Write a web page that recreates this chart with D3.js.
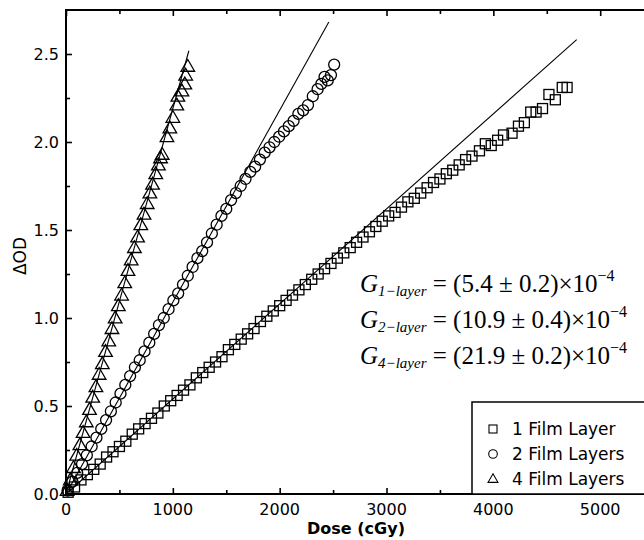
<!DOCTYPE html>
<html>
<head>
<meta charset="utf-8">
<script src="https://cdn.jsdelivr.net/npm/d3@7"></script>
<style>
  html, body { margin: 0; padding: 0; background: #fff; }
  svg { display: block; }
</style>
</head>
<body>
<svg id="chart" width="644" height="540"></svg>
<script>
// Film response: net optical density change vs. dose for stacked film layers.

// 1 film layer (squares): dose in cGy
const dose1 = [20, 80, 140, 200, 260, 320, 380, 440, 500, 560, 620, 680, 740, 800, 860, 920, 980, 1040, 1100, 1160,
  1220, 1280, 1340, 1400, 1460, 1520, 1580, 1640, 1700, 1760, 1820, 1880, 1940, 2000, 2060, 2120, 2180, 2240, 2300, 2360,
  2420, 2480, 2540, 2600, 2660, 2720, 2780, 2840, 2900, 2960, 3020, 3080, 3140, 3200, 3260, 3320, 3380, 3440, 3500, 3560,
  3620, 3680, 3740, 3800, 3870, 3925, 3980, 4040, 4095, 4175, 4235, 4290, 4350, 4400, 4460, 4520, 4580, 4645, 4690];
const od1 = [0.01, 0.04, 0.08, 0.11, 0.14, 0.17, 0.21, 0.24, 0.27, 0.30, 0.34, 0.37, 0.40, 0.43, 0.46, 0.50, 0.53, 0.56, 0.59, 0.62,
  0.66, 0.69, 0.72, 0.75, 0.78, 0.82, 0.85, 0.88, 0.91, 0.94, 0.98, 1.01, 1.04, 1.07, 1.10, 1.13, 1.16, 1.19, 1.22, 1.25,
  1.28, 1.31, 1.34, 1.37, 1.40, 1.43, 1.46, 1.49, 1.52, 1.55, 1.58, 1.60, 1.63, 1.66, 1.68, 1.71, 1.74, 1.77, 1.79, 1.82,
  1.84, 1.87, 1.90, 1.92, 1.95, 1.99, 1.98, 2.01, 2.04, 2.05, 2.09, 2.11, 2.17, 2.17, 2.19, 2.27, 2.24, 2.31, 2.31];

// 2 film layers (circles)
const dose2 = [15, 60, 105, 150, 195, 240, 285, 330, 375, 420, 465, 510, 555, 600, 645, 690, 735, 780, 825, 870,
  915, 960, 1005, 1050, 1095, 1140, 1185, 1230, 1275, 1320, 1365, 1410, 1455, 1500, 1545, 1590, 1635, 1680, 1725, 1770,
  1815, 1860, 1905, 1950, 1995, 2040, 2085, 2130, 2175, 2220, 2265, 2310, 2355, 2390, 2420, 2450, 2480, 2510];
const od2 = [0.02, 0.07, 0.12, 0.17, 0.22, 0.27, 0.32, 0.37, 0.42, 0.47, 0.52, 0.57, 0.62, 0.67, 0.72, 0.76, 0.81, 0.86, 0.91, 0.96,
  1.00, 1.05, 1.10, 1.14, 1.19, 1.24, 1.29, 1.34, 1.38, 1.43, 1.48, 1.53, 1.58, 1.62, 1.67, 1.71, 1.75, 1.79, 1.83, 1.86,
  1.90, 1.94, 1.97, 2.00, 2.03, 2.06, 2.09, 2.12, 2.16, 2.18, 2.21, 2.26, 2.30, 2.33, 2.37, 2.35, 2.38, 2.44];

// 4 film layers (triangles)
const dose4 = [10, 40, 70, 100, 130, 160, 190, 220, 250, 280, 310, 340, 370, 400, 430, 460, 490, 520, 550, 580,
  610, 640, 670, 700, 730, 760, 785, 810, 840, 865, 885, 900, 945, 972, 1000, 1037, 1047, 1085, 1112, 1120, 1140];
const od4 = [0.02, 0.08, 0.15, 0.22, 0.28, 0.35, 0.41, 0.48, 0.55, 0.61, 0.68, 0.74, 0.81, 0.87, 0.94, 1.00, 1.07, 1.13, 1.20, 1.27,
  1.33, 1.40, 1.46, 1.53, 1.59, 1.65, 1.71, 1.76, 1.82, 1.87, 1.91, 1.93, 2.03, 2.08, 2.14, 2.21, 2.26, 2.29, 2.33, 2.38, 2.43];

// Sensitivity (slope) of each linear fit, in 1/cGy, as printed: mantissa and exponent
const gainMantissa = [5.4, 10.9, 21.9];
const gainErr = [0.2, 0.4, 0.2];
const gainExp = -4;
// Dose range over which each fit line is drawn
const fitDoseMax = [4780, 2460, 1150];

const seriesNames = ["1 Film Layer", "2 Film Layers", "4 Film Layers"];
const eqLabels = ["1\u2212layer", "2\u2212layer", "4\u2212layer"];

const xTicks = [0, 1000, 2000, 3000, 4000, 5000];
const yTicks = [0.0, 0.5, 1.0, 1.5, 2.0, 2.5];

const svg = d3.select("#chart");
const W = 644, H = 540;
const margin = { left: 66, top: 10, bottom: 494 };

const x = d3.scaleLinear().domain([0, 5410]).range([margin.left, W]);
const y = d3.scaleLinear().domain([0, 2.75]).range([margin.bottom, margin.top]);

const sans = "DejaVu Sans, Verdana, sans-serif";
const serif = "Liberation Serif, Times New Roman, Times, serif";

// Fit lines (drawn beneath markers)
const lineG = svg.append("g");
gainMantissa.forEach((m, i) => {
  const g = m * Math.pow(10, gainExp);
  lineG.append("line")
    .attr("x1", x(0)).attr("y1", y(0))
    .attr("x2", x(fitDoseMax[i])).attr("y2", y(g * fitDoseMax[i]))
    .attr("stroke", "#000").attr("stroke-width", 1.1);
});

// Markers
const mk = svg.append("g").attr("fill", "none").attr("stroke", "#000").attr("stroke-width", 1.3);
const pts = (ds, os) => ds.map((d, i) => [d, os[i]]);

mk.selectAll("rect.s1").data(pts(dose1, od1)).join("rect")
  .attr("x", d => x(d[0]) - 5).attr("y", d => y(d[1]) - 5)
  .attr("width", 10).attr("height", 10);

mk.selectAll("circle.s2").data(pts(dose2, od2)).join("circle")
  .attr("cx", d => x(d[0])).attr("cy", d => y(d[1])).attr("r", 5.5);

const tri = d3.symbol().type(d3.symbolTriangle).size(80);
mk.selectAll("path.s4").data(pts(dose4, od4)).join("path")
  .attr("transform", d => `translate(${x(d[0])},${y(d[1]) + 1})`)
  .attr("d", tri);

// Frame: left, bottom and top lines (right edge runs past the page)
const frame = svg.append("g").attr("stroke", "#000").attr("stroke-width", 2);
frame.append("line").attr("x1", margin.left).attr("x2", margin.left).attr("y1", margin.top - 1).attr("y2", margin.bottom + 1);
frame.append("line").attr("x1", margin.left - 1).attr("x2", W).attr("y1", margin.bottom).attr("y2", margin.bottom);
frame.append("line").attr("x1", margin.left - 1).attr("x2", W).attr("y1", margin.top).attr("y2", margin.top);

// Axes with inward ticks
const xMinor = d3.range(500, 5500, 1000);
const yMinor = d3.range(0.25, 2.75, 0.5);

const xAxis = svg.append("g").attr("transform", `translate(0,${margin.bottom})`)
  .call(d3.axisTop(x).tickValues(xTicks).tickSize(6).tickFormat(""));
const xAxisMinor = svg.append("g").attr("transform", `translate(0,${margin.bottom})`)
  .call(d3.axisTop(x).tickValues(xMinor).tickSize(4).tickFormat(""));
const xTop = svg.append("g").attr("transform", `translate(0,${margin.top})`)
  .call(d3.axisBottom(x).tickValues(xTicks).tickSize(6).tickFormat(""));
const xTopMinor = svg.append("g").attr("transform", `translate(0,${margin.top})`)
  .call(d3.axisBottom(x).tickValues(xMinor).tickSize(4).tickFormat(""));
const yAxis = svg.append("g").attr("transform", `translate(${margin.left},0)`)
  .call(d3.axisRight(y).tickValues(yTicks).tickSize(6).tickFormat(""));
const yAxisMinor = svg.append("g").attr("transform", `translate(${margin.left},0)`)
  .call(d3.axisRight(y).tickValues(yMinor).tickSize(4).tickFormat(""));
[xAxis, xAxisMinor, xTop, xTopMinor, yAxis, yAxisMinor].forEach(a => {
  a.select(".domain").remove();
  a.selectAll(".tick line").attr("stroke", "#000").attr("stroke-width", 1.6);
});

// Tick labels
svg.append("g").selectAll("text").data(xTicks).join("text")
  .attr("x", d => x(d)).attr("y", 515)
  .attr("text-anchor", "middle")
  .attr("font-family", sans).attr("font-size", 16)
  .text(d => d);
svg.append("g").selectAll("text").data(yTicks).join("text")
  .attr("x", margin.left - 7).attr("y", d => y(d) + 6)
  .attr("text-anchor", "end")
  .attr("font-family", sans).attr("font-size", 16)
  .text(d => d.toFixed(1));

// Axis titles
svg.append("text")
  .attr("x", 356).attr("y", 534)
  .attr("text-anchor", "middle")
  .attr("font-family", sans).attr("font-size", 16).attr("font-weight", "bold")
  .text("Dose (cGy)");
svg.append("text")
  .attr("transform", "translate(26,256) rotate(-90)")
  .attr("text-anchor", "middle")
  .attr("font-family", sans).attr("font-size", 17)
  .text("\u0394OD");

// Sensitivity equations
const eqBase = [292, 328, 364];
eqBase.forEach((by, i) => {
  const t = svg.append("text").attr("x", 360).attr("y", by)
    .attr("font-family", serif).attr("font-size", 25);
  t.append("tspan").attr("font-style", "italic").text("G");
  t.append("tspan").attr("font-style", "italic").attr("font-size", 15).attr("dy", 4).text(eqLabels[i]);
  t.append("tspan").attr("dy", -4)
    .text(` = (${gainMantissa[i]} \u00b1 ${gainErr[i]})\u00d710`);
  t.append("tspan").attr("font-size", 16).attr("dy", -11).text("\u2212" + (-gainExp));
});

// Legend
const lg = svg.append("g");
lg.append("rect").attr("x", 472).attr("y", 402).attr("width", 200).attr("height", 92)
  .attr("fill", "#fff").attr("stroke", "#000").attr("stroke-width", 1.5);
const legY = [429, 454, 479];
const lx = 493;
lg.append("rect").attr("x", lx - 4).attr("y", legY[0] - 4).attr("width", 8).attr("height", 8)
  .attr("fill", "none").attr("stroke", "#000").attr("stroke-width", 1.1);
lg.append("circle").attr("cx", lx).attr("cy", legY[1]).attr("r", 4.3)
  .attr("fill", "none").attr("stroke", "#000").attr("stroke-width", 1.1);
lg.append("path").attr("transform", `translate(${lx},${legY[2] + 0.5})`)
  .attr("d", d3.symbol().type(d3.symbolTriangle).size(42))
  .attr("fill", "none").attr("stroke", "#000").attr("stroke-width", 1.1);
lg.selectAll("text").data(seriesNames).join("text")
  .attr("x", 512).attr("y", (d, i) => legY[i] + 6)
  .attr("font-family", sans).attr("font-size", 17)
  .text(d => d);
</script>
</body>
</html>
